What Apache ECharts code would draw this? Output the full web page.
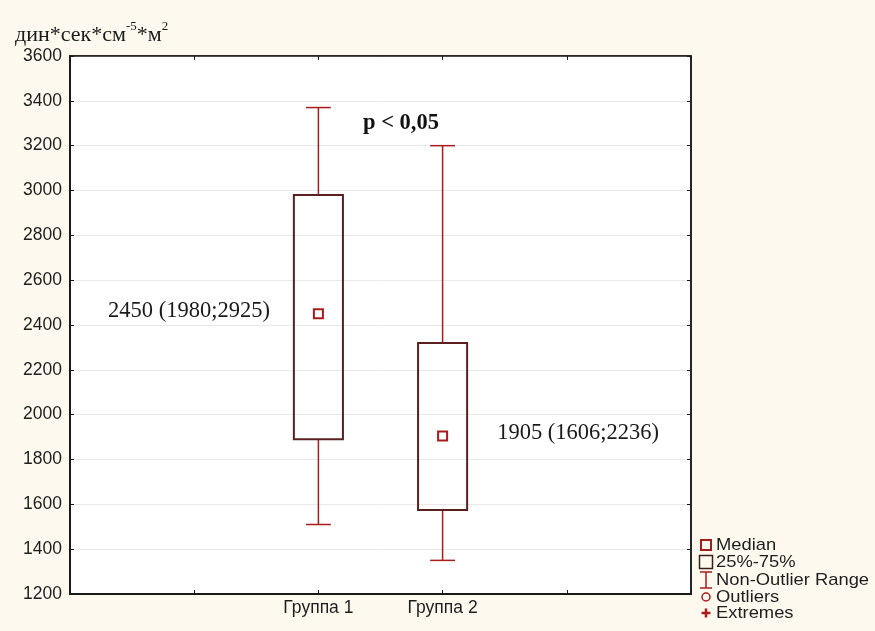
<!DOCTYPE html>
<html>
<head>
<meta charset="utf-8">
<script src="https://cdn.jsdelivr.net/npm/echarts@6/dist/echarts.min.js"></script>
<style>
  html, body { margin: 0; padding: 0; background: #fef9ef; }
  #chart { width: 875px; height: 631px; }
</style>
</head>
<body>
<div id="chart"></div>
<script>
// Category slots along the x axis (only two carry groups)
const categories = ['', '', 'Группа 1', 'Группа 2', '', ''];
const groupSlots = [2, 3];

// Box-and-whisker statistics per group
const whiskerLow  = [1510, 1350];
const quart1      = [1890, 1575];
const median      = [2450, 1905];
const quart3      = [2980, 2320];
const whiskerHigh = [3370, 3200];

// Stated quartile values printed beside each median
const statedQ1 = [1980, 1606];
const statedQ3 = [2925, 2236];

// Y axis ticks
const yMin = 1200, yMax = 3600, yStep = 200;

const legendItems = ['Median', '25%-75%', 'Non-Outlier Range', 'Outliers', 'Extremes'];

const RED = '#a81c1c';
const BOX = '#5a2020';
const SERIF = '"Liberation Serif", "Times New Roman", serif';
const SANS = '"Liberation Sans", Arial, sans-serif';

const boxData = groupSlots.map((s, i) => [s, whiskerLow[i], quart1[i], median[i], quart3[i], whiskerHigh[i], i]);

function renderBox(params, api) {
  const slot = api.value(0);
  const cw = api.size([1, 0])[0];
  const boxW = cw * 0.395, capW = cw * 0.2;
  const pLow = api.coord([slot, api.value(1)]);
  const pQ1 = api.coord([slot, api.value(2)]);
  const pMed = api.coord([slot, api.value(3)]);
  const pQ3 = api.coord([slot, api.value(4)]);
  const pHigh = api.coord([slot, api.value(5)]);
  const idx = api.value(6);
  const cx = pMed[0];
  const label = median[idx] + ' (' + statedQ1[idx] + ';' + statedQ3[idx] + ')';
  const leftSide = idx === 0;
  return {
    type: 'group',
    children: [
      { type: 'line', shape: { x1: cx, y1: pHigh[1], x2: cx, y2: pQ3[1] }, style: { stroke: RED, lineWidth: 1.5 } },
      { type: 'line', shape: { x1: cx, y1: pQ1[1], x2: cx, y2: pLow[1] }, style: { stroke: RED, lineWidth: 1.5 } },
      { type: 'line', shape: { x1: cx - capW / 2, y1: pHigh[1], x2: cx + capW / 2, y2: pHigh[1] }, style: { stroke: RED, lineWidth: 1.5 } },
      { type: 'line', shape: { x1: cx - capW / 2, y1: pLow[1], x2: cx + capW / 2, y2: pLow[1] }, style: { stroke: RED, lineWidth: 1.5 } },
      { type: 'rect', shape: { x: cx - boxW / 2, y: pQ3[1], width: boxW, height: pQ1[1] - pQ3[1] }, style: { fill: 'rgba(0,0,0,0)', stroke: BOX, lineWidth: 2 } },
      { type: 'rect', shape: { x: cx - 4.5, y: pMed[1] - 4.5, width: 9, height: 9 }, style: { fill: '#fff', stroke: RED, lineWidth: 2 } },
      {
        type: 'text',
        x: leftSide ? cx - boxW / 2 - 24 : cx + boxW / 2 + 30,
        y: pMed[1] - 3,
        style: {
          text: label,
          fontFamily: SERIF,
          fontSize: 22.5,
          fill: '#1a1a1a',
          align: leftSide ? 'right' : 'left',
          verticalAlign: 'middle'
        }
      }
    ]
  };
}

// Legend rows drawn as small shapes plus text
const lx = 706, lTextX = 716;
const rowsY = [545, 562, 580, 597, 613];
const legendGraphics = [
  { type: 'rect', shape: { x: lx - 5, y: rowsY[0] - 5, width: 10, height: 10 }, style: { fill: 'none', stroke: RED, lineWidth: 2 } },
  { type: 'rect', shape: { x: lx - 6.5, y: rowsY[1] - 6.5, width: 13, height: 13 }, style: { fill: 'none', stroke: '#3c1c1c', lineWidth: 1.5 } },
  { type: 'line', shape: { x1: lx, y1: rowsY[2] - 8, x2: lx, y2: rowsY[2] + 8 }, style: { stroke: RED, lineWidth: 1.5 } },
  { type: 'line', shape: { x1: lx - 6, y1: rowsY[2] - 8, x2: lx + 6, y2: rowsY[2] - 8 }, style: { stroke: RED, lineWidth: 1.5 } },
  { type: 'line', shape: { x1: lx - 6, y1: rowsY[2] + 8, x2: lx + 6, y2: rowsY[2] + 8 }, style: { stroke: RED, lineWidth: 1.5 } },
  { type: 'circle', shape: { cx: lx, cy: rowsY[3], r: 4 }, style: { fill: 'none', stroke: RED, lineWidth: 1.5 } },
  { type: 'line', shape: { x1: lx - 4.5, y1: rowsY[4], x2: lx + 4.5, y2: rowsY[4] }, style: { stroke: RED, lineWidth: 2.5 } },
  { type: 'line', shape: { x1: lx, y1: rowsY[4] - 4.5, x2: lx, y2: rowsY[4] + 4.5 }, style: { stroke: RED, lineWidth: 2.5 } }
].concat(legendItems.map((t, i) => ({
  type: 'text', x: lTextX, y: rowsY[i] + 0.5, scaleX: 1.08,
  style: { text: t, fontFamily: SANS, fontSize: 17, fill: '#1e1e1e', verticalAlign: 'middle' }
})));

const chart = echarts.init(document.getElementById('chart'), null, { renderer: 'canvas' });

chart.setOption({
  backgroundColor: '#fef9ef',
  animation: false,
  grid: {
    left: 70, right: 184, top: 56, bottom: 37,
    show: true, backgroundColor: '#ffffff', borderColor: '#1a1a1a', borderWidth: 1.5
  },
  xAxis: [
    {
      type: 'category', data: categories, boundaryGap: false,
      axisLine: { lineStyle: { color: '#1a1a1a', width: 2 } },
      axisTick: { inside: true, length: 4, lineStyle: { color: '#1a1a1a' } },
      axisLabel: { fontFamily: SANS, fontSize: 17.5, color: '#1e1e1e', margin: 5, interval: 0 },
      splitLine: { show: false }
    },
    {
      type: 'category', data: categories, boundaryGap: false, position: 'top',
      axisLine: { lineStyle: { color: '#1a1a1a', width: 1.5 } },
      axisTick: { inside: true, length: 4, lineStyle: { color: '#1a1a1a' } },
      axisLabel: { show: false }, splitLine: { show: false }
    }
  ],
  yAxis: [
    {
      type: 'value', min: yMin, max: yMax, interval: yStep,
      axisLine: { show: true, lineStyle: { color: '#1a1a1a', width: 2 } },
      axisTick: { show: true, inside: true, length: 4, lineStyle: { color: '#1a1a1a' } },
      axisLabel: { fontFamily: SANS, fontSize: 17.5, color: '#1e1e1e', margin: 8, formatter: v => String(v) },
      splitLine: { lineStyle: { color: '#e9e9e9', width: 1 } }
    },
    {
      type: 'value', min: yMin, max: yMax, interval: yStep, position: 'right',
      axisLine: { show: true, lineStyle: { color: '#1a1a1a', width: 1.5 } },
      axisTick: { show: true, inside: true, length: 4, lineStyle: { color: '#1a1a1a' } },
      axisLabel: { show: false }, splitLine: { show: false }
    }
  ],
  series: [{
    type: 'custom',
    renderItem: renderBox,
    encode: { x: 0, y: [1, 2, 3, 4, 5] },
    data: boxData,
    z: 5
  }],
  graphic: [
    {
      type: 'text', left: 15, top: 20,
      style: {
        rich: {
          m: { fontFamily: SERIF, fontSize: 22, lineHeight: 26, verticalAlign: 'bottom', fill: '#1a1a1a' },
          s: { fontFamily: SERIF, fontSize: 13, lineHeight: 15, verticalAlign: 'top', fill: '#1a1a1a' }
        },
        text: '{m|дин*сек*см}{s|-5}{m|*м}{s|2}'
      }
    },
    {
      type: 'text', left: 363, top: 112,
      style: {
        text: 'p < 0,05',
        fontFamily: SERIF,
        fontWeight: 'bold', fontSize: 22.5, fill: '#111'
      }
    }
  ].concat(legendGraphics)
});
</script>
</body>
</html>
